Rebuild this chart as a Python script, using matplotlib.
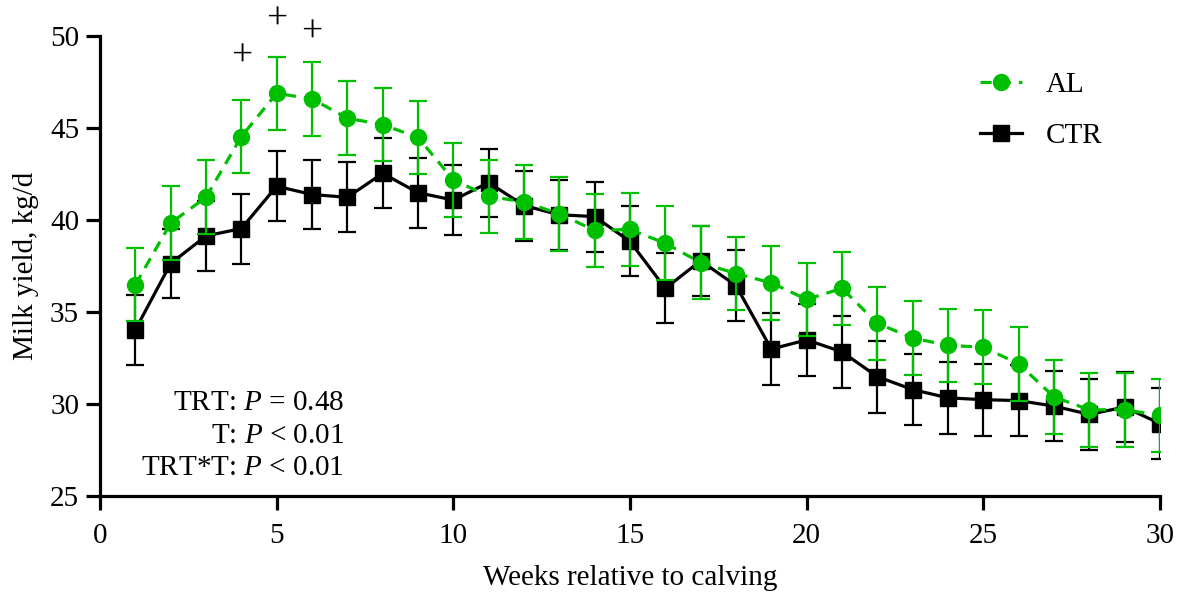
import matplotlib
matplotlib.use("Agg")
import matplotlib.pyplot as plt
from matplotlib.lines import Line2D

plt.rcParams['font.family'] = ['Liberation Serif', 'DejaVu Serif']
plt.rcParams['mathtext.fontset'] = 'custom'
plt.rcParams['mathtext.rm'] = 'Liberation Serif'
plt.rcParams['mathtext.it'] = 'Liberation Serif:italic'

weeks = list(range(1, 31))

# milk yield, kg/d (mean and SEM)
al_mean = [36.5, 39.85, 41.25, 44.55, 46.9, 46.6, 45.55, 45.2, 44.5, 42.2,
           41.3, 41.0, 40.35, 39.45, 39.5, 38.75, 37.7, 37.1, 36.6, 35.7,
           36.3, 34.4, 33.6, 33.2, 33.1, 32.2, 30.4, 29.7, 29.7, 29.4]
al_sem = [2.0, 2.0, 2.0, 2.0, 2.0, 2.0, 2.0, 2.0, 2.0, 2.0,
          2.0, 2.0, 2.0, 2.0, 2.0, 2.0, 2.0, 2.0, 2.0, 2.0,
          2.0, 2.0, 2.0, 2.0, 2.0, 2.0, 2.0, 2.0, 2.0, 2.0]
ctr_mean = [34.05, 37.65, 39.15, 39.55, 41.85, 41.4, 41.25, 42.55, 41.5, 41.1,
            42.05, 40.8, 40.3, 40.2, 38.85, 36.3, 37.8, 36.45, 33.0, 33.5,
            32.85, 31.5, 30.8, 30.35, 30.25, 30.2, 29.9, 29.45, 29.85, 28.95]
ctr_sem = [1.9, 1.9, 1.9, 1.9, 1.9, 1.9, 1.9, 1.9, 1.9, 1.9,
           1.85, 1.9, 1.9, 1.9, 1.9, 1.9, 1.9, 1.95, 1.95, 1.95,
           1.95, 1.95, 1.95, 1.95, 1.95, 1.95, 1.9, 1.95, 1.9, 1.95]

# weeks with a tendency for treatment difference, and mark height
trend_weeks = [4, 5, 6]
trend_y = [48.9, 50.9, 50.2]

stats_lines = ["TRT: $\\it{P}$ = 0.48", "T: $\\it{P}$ < 0.01", "TRT*T: $\\it{P}$ < 0.01"]

green = '#00BF00'
al_ls = (0, (3.5, 2.5))
fs = 21

fig = plt.figure(figsize=(11.78, 5.92), dpi=100)
ax = fig.add_axes([0.0849, 0.1617, 0.8998, 0.777])

ax.errorbar(weeks, ctr_mean, yerr=ctr_sem, color='black', ls='-', lw=2.3,
            marker='s', ms=11, capsize=6.5, elinewidth=1.6, capthick=1.6, zorder=3)
ax.errorbar(weeks, al_mean, yerr=al_sem, color=green, ls=al_ls, lw=2.3,
            marker='o', ms=11.5, capsize=6.5, elinewidth=1.6, capthick=1.6, zorder=4)

for w, y in zip(trend_weeks, trend_y):
    ax.text(w, y, '+', ha='center', va='center', fontsize=27, clip_on=False)

for i, s in enumerate(stats_lines):
    ax.text(6.9, 30.05 - i * 1.77, s, ha='right', va='center', fontsize=fs)

ax.set_xlim(0, 30)
ax.set_ylim(25, 50)
ax.set_xticks([0, 5, 10, 15, 20, 25, 30])
ax.set_yticks([25, 30, 35, 40, 45, 50])
ax.spines['top'].set_visible(False)
ax.spines['right'].set_visible(False)
for sp in ['left', 'bottom']:
    ax.spines[sp].set_linewidth(2.3)
ax.tick_params(axis='both', width=2.3, length=10, labelsize=fs)
ax.tick_params(axis='x', pad=9)
ax.tick_params(axis='y', pad=5)

ax.set_xlabel('Weeks relative to calving', fontsize=fs, labelpad=12)
ax.set_ylabel('Milk yield, kg/d', fontsize=fs, labelpad=8)

handles = [Line2D([], [], color=green, ls=al_ls, lw=2.3, marker='o', ms=11.5),
           Line2D([], [], color='black', ls='-', lw=2.3, marker='s', ms=11)]
ax.legend(handles, ['AL', 'CTR'], loc='upper right', bbox_to_anchor=(0.97, 0.98),
          frameon=False, fontsize=fs, handlelength=1.45, handletextpad=0.8,
          labelspacing=0.85)

fig.savefig('out.png', dpi=100)
